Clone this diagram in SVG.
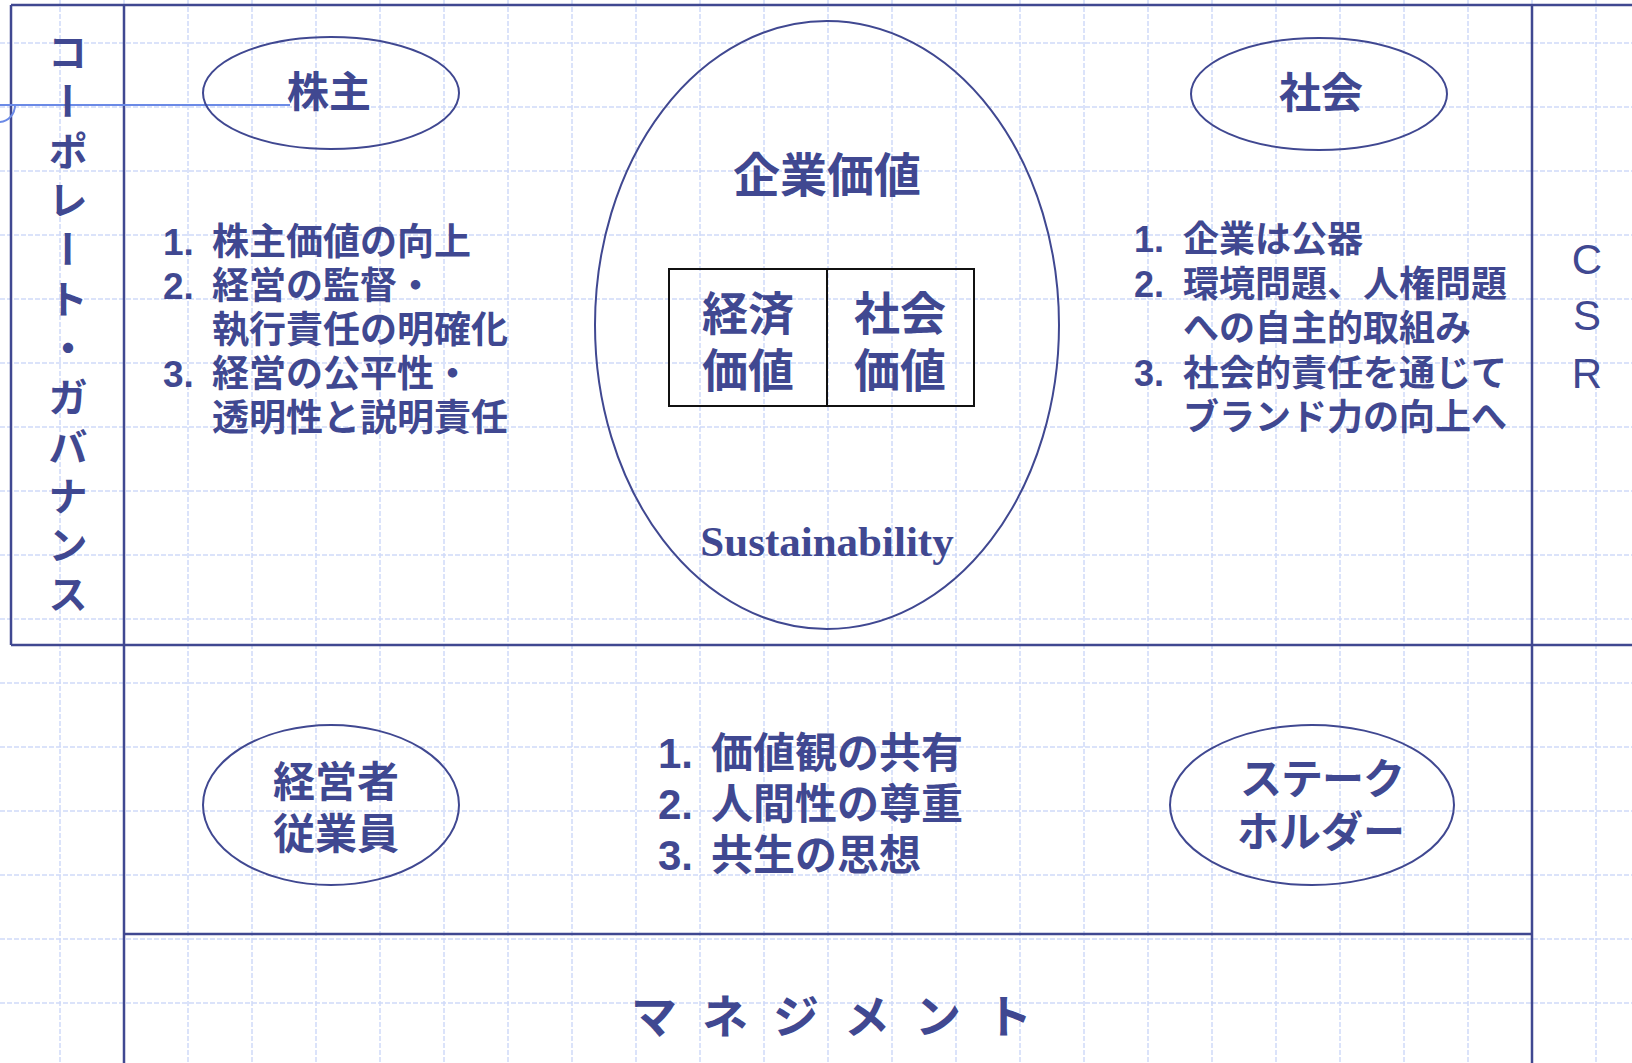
<svg xmlns="http://www.w3.org/2000/svg" width="1632" height="1063" viewBox="0 0 1632 1063">
<style>
.grid line { stroke:#cfdaf9; stroke-width:1.5; stroke-dasharray:5 2; }
.frame line { stroke:#404891; stroke-width:2.5; }
.el { fill:none; stroke:#404891; stroke-width:2; }
.t { fill:#404891; font-family:"Noto Sans CJK JP", "Noto Sans CJK SC", sans-serif; font-weight:bold; }
.num { font-family:"Liberation Sans", Arial, sans-serif; font-weight:bold; }
.csr { fill:#404891; font-family:"Liberation Sans", Arial, sans-serif; font-weight:normal; text-anchor:middle; }
.mid { text-anchor:middle; }
</style>
<rect width="1632" height="1063" fill="#ffffff"/>
<g class="grid" id="grid">
<line x1="60" y1="0" x2="60" y2="1063"/><line x1="124" y1="0" x2="124" y2="1063"/><line x1="188" y1="0" x2="188" y2="1063"/><line x1="252" y1="0" x2="252" y2="1063"/><line x1="316" y1="0" x2="316" y2="1063"/><line x1="380" y1="0" x2="380" y2="1063"/><line x1="444" y1="0" x2="444" y2="1063"/><line x1="508" y1="0" x2="508" y2="1063"/><line x1="572" y1="0" x2="572" y2="1063"/><line x1="636" y1="0" x2="636" y2="1063"/><line x1="700" y1="0" x2="700" y2="1063"/><line x1="764" y1="0" x2="764" y2="1063"/><line x1="828" y1="0" x2="828" y2="1063"/><line x1="892" y1="0" x2="892" y2="1063"/><line x1="956" y1="0" x2="956" y2="1063"/><line x1="1020" y1="0" x2="1020" y2="1063"/><line x1="1084" y1="0" x2="1084" y2="1063"/><line x1="1148" y1="0" x2="1148" y2="1063"/><line x1="1212" y1="0" x2="1212" y2="1063"/><line x1="1276" y1="0" x2="1276" y2="1063"/><line x1="1340" y1="0" x2="1340" y2="1063"/><line x1="1404" y1="0" x2="1404" y2="1063"/><line x1="1468" y1="0" x2="1468" y2="1063"/><line x1="1532" y1="0" x2="1532" y2="1063"/><line x1="1596" y1="0" x2="1596" y2="1063"/>
<line x1="0" y1="43" x2="1632" y2="43"/><line x1="0" y1="107" x2="1632" y2="107"/><line x1="0" y1="171" x2="1632" y2="171"/><line x1="0" y1="235" x2="1632" y2="235"/><line x1="0" y1="299" x2="1632" y2="299"/><line x1="0" y1="363" x2="1632" y2="363"/><line x1="0" y1="427" x2="1632" y2="427"/><line x1="0" y1="491" x2="1632" y2="491"/><line x1="0" y1="555" x2="1632" y2="555"/><line x1="0" y1="619" x2="1632" y2="619"/><line x1="0" y1="683" x2="1632" y2="683"/><line x1="0" y1="747" x2="1632" y2="747"/><line x1="0" y1="811" x2="1632" y2="811"/><line x1="0" y1="875" x2="1632" y2="875"/><line x1="0" y1="939" x2="1632" y2="939"/><line x1="0" y1="1003" x2="1632" y2="1003"/>
</g>
<g class="frame" id="frame">
<line x1="11" y1="5" x2="1632" y2="5"/>
<line x1="11" y1="5" x2="11" y2="645"/>
<line x1="11" y1="645" x2="1632" y2="645"/>
<line x1="124" y1="5" x2="124" y2="1063"/>
<line x1="1532" y1="5" x2="1532" y2="1063"/>
<line x1="124" y1="934" x2="1532" y2="934"/>
</g>
<g id="connectors">
<path d="M0,105 H290" fill="none" stroke="#6b8ae6" stroke-width="2"/>
<path d="M15,105 A16 17 0 0 1 0 122" fill="none" stroke="#6b8ae6" stroke-width="2"/>
</g>
<g id="governance">
<text class="t" x="68" y="32" font-size="40" writing-mode="vertical-rl" letter-spacing="9.3">コーポレート・ガバナンス</text>
</g>
<g id="csr">
<text class="csr" font-size="42" x="1587" y="274">C</text>
<text class="csr" font-size="42" x="1587" y="330">S</text>
<text class="csr" font-size="42" x="1587" y="388">R</text>
</g>
<g id="shareholder">
<ellipse class="el" cx="331" cy="93" rx="128" ry="56"/>
<text class="t mid" x="329" y="107" font-size="42">株主</text>
</g>
<g id="society">
<ellipse class="el" cx="1319" cy="94" rx="128" ry="56"/>
<text class="t mid" x="1321" y="108" font-size="42">社会</text>
</g>
<g id="shareholder-list" class="t" font-size="37">
<text><tspan class="num" x="163" y="255">1.</tspan><tspan x="212" y="255">株主価値の向上</tspan></text>
<text><tspan class="num" x="163" y="299">2.</tspan><tspan x="212" y="299">経営の監督・</tspan></text>
<text x="212" y="343">執行責任の明確化</text>
<text><tspan class="num" x="163" y="387">3.</tspan><tspan x="212" y="387">経営の公平性・</tspan></text>
<text x="212" y="431">透明性と説明責任</text>
</g>
<g id="society-list" class="t" font-size="36">
<text><tspan class="num" x="1134" y="252">1.</tspan><tspan x="1183" y="252">企業は公器</tspan></text>
<text><tspan class="num" x="1134" y="297">2.</tspan><tspan x="1183" y="297">環境問題、人権問題</tspan></text>
<text x="1183" y="341">への自主的取組み</text>
<text><tspan class="num" x="1134" y="386">3.</tspan><tspan x="1183" y="386">社会的責任を通じて</tspan></text>
<text x="1183" y="430">ブランド力の向上へ</text>
</g>
<g id="corporate-value">
<ellipse class="el" cx="827" cy="325" rx="232" ry="304"/>
<text class="t mid" x="827" y="192" font-size="47">企業価値</text>
<text class="mid" x="827" y="556" font-size="43" fill="#404891" font-family="'Liberation Serif', 'Times New Roman', serif" font-weight="bold">Sustainability</text>
</g>
<g id="value-box">
<rect x="669" y="269" width="305" height="137" fill="none" stroke="#111111" stroke-width="2"/>
<line x1="827" y1="269" x2="827" y2="406" stroke="#111111" stroke-width="2"/>
<text class="t mid" x="748" y="330" font-size="46">経済</text>
<text class="t mid" x="748" y="387" font-size="46">価値</text>
<text class="t mid" x="900" y="330" font-size="46">社会</text>
<text class="t mid" x="900" y="387" font-size="46">価値</text>
</g>
<g id="employees">
<ellipse class="el" cx="331" cy="805" rx="128" ry="80"/>
<text class="t mid" x="336" y="797" font-size="42">経営者</text>
<text class="t mid" x="336" y="849" font-size="42">従業員</text>
</g>
<g id="stakeholders">
<ellipse class="el" cx="1312" cy="805" rx="142" ry="80"/>
<text class="t mid" x="1322" y="794" font-size="42" letter-spacing="-1">ステーク</text>
<text class="t mid" x="1321" y="847" font-size="42">ホルダー</text>
</g>
<g id="values-list" class="t" font-size="42">
<text><tspan class="num" x="658" y="768">1.</tspan><tspan x="711" y="768">価値観の共有</tspan></text>
<text><tspan class="num" x="658" y="819">2.</tspan><tspan x="711" y="819">人間性の尊重</tspan></text>
<text><tspan class="num" x="658" y="870">3.</tspan><tspan x="711" y="870">共生の思想</tspan></text>
</g>
<g id="management">
<text class="t" x="631" y="1033" font-size="46" letter-spacing="25">マネジメント</text>
</g>
</svg>
